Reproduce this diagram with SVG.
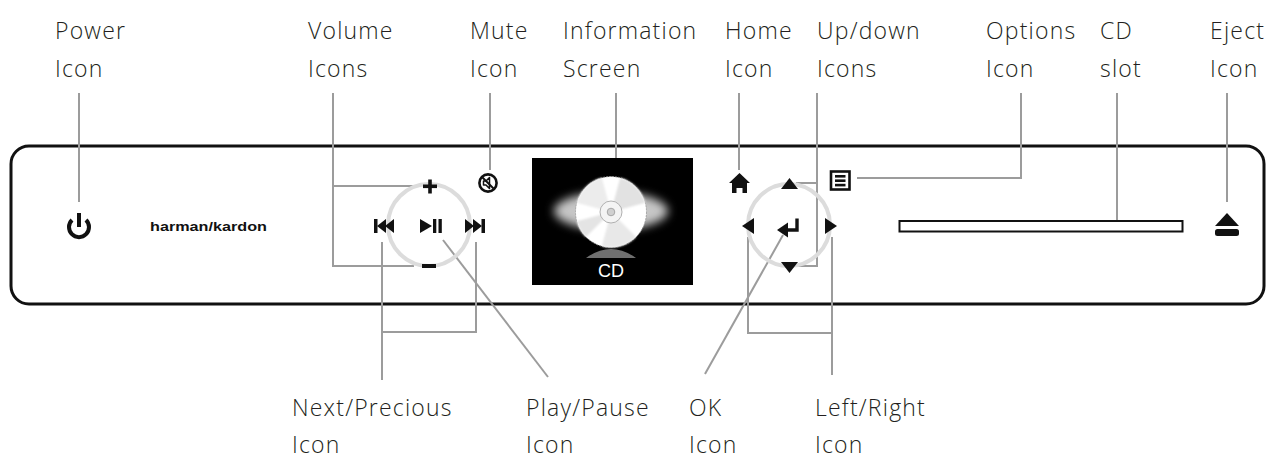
<svg xmlns="http://www.w3.org/2000/svg" width="1268" height="460" viewBox="0 0 1268 460">
  <style>
    .lbl { font-family: "Open Sans", "Liberation Sans", sans-serif; font-weight: 300; font-size: 23px; letter-spacing: 1.2px; fill: #231f20; }
    .lead { fill: none; stroke: #9c9c9c; stroke-width: 2; }
    .ring { fill: none; stroke: #dcdcdc; stroke-width: 4; }
    .ico { fill: #111; }
  </style>
  <defs>
    <filter id="glow" x="-50%" y="-50%" width="200%" height="200%">
      <feGaussianBlur stdDeviation="5"/>
    </filter>
    <filter id="soft" x="-20%" y="-20%" width="140%" height="140%">
      <feGaussianBlur stdDeviation="1.2"/>
    </filter>
    <clipPath id="scr">
      <rect x="532" y="158" width="161" height="127"/>
    </clipPath>
  </defs>

  <!-- front panel -->
  <g id="panel">
    <rect x="11" y="146" width="1253" height="158" rx="18" ry="18" fill="#fff" stroke="#111" stroke-width="3"/>
  </g>

  <!-- leader lines -->
  <g id="connectors" class="lead">
    <path d="M79 93 V202"/>
    <path d="M333 93 V266 H414 M333 186 H416"/>
    <path d="M490 93 V170"/>
    <path d="M616 93 V170"/>
    <path d="M739 93 V170"/>
    <path d="M817 93 V266 H796 M817 183 H796"/>
    <path d="M1021 93 V178 H857"/>
    <path d="M1117 93 V225"/>
    <path d="M1227 93 V202"/>
    <path d="M382 242 V380 M382 332 H476 V242"/>
    <path d="M443 240 L548 377"/>
    <path d="M783 235 L705 374"/>
    <path d="M748 237 V333 H832 M832 237 V375"/>
  </g>

  <!-- power -->
  <g id="power">
    <path d="M72 220 A10 10 0 1 0 86 220" fill="none" stroke="#111" stroke-width="4"/>
    <line x1="79" y1="213" x2="79" y2="227" stroke="#111" stroke-width="4"/>
  </g>

  <!-- brand -->
  <g id="brand">
    <text x="150" y="231" font-family="Liberation Sans, Arial, sans-serif" font-weight="bold" font-size="13.5" fill="#111" textLength="117" lengthAdjust="spacingAndGlyphs">harman/kardon</text>
  </g>

  <!-- volume / transport cluster -->
  <g id="volume">
    <circle class="ring" cx="429" cy="225" r="41"/>
    <rect class="ico" x="423" y="184.5" width="14" height="3.6"/>
    <rect class="ico" x="428.2" y="179.5" width="3.6" height="14"/>
    <rect class="ico" x="422" y="264" width="14" height="4"/>
  </g>
  <g id="previous">
    <rect class="ico" x="374" y="219" width="3.5" height="14"/>
    <polygon class="ico" points="377,226 386,219 386,233"/>
    <polygon class="ico" points="385,226 394,219 394,233"/>
  </g>
  <g id="playpause">
    <polygon class="ico" points="420,219 432,226 420,233"/>
    <rect class="ico" x="433" y="219" width="3.3" height="14"/>
    <rect class="ico" x="438.5" y="219" width="3.3" height="14"/>
  </g>
  <g id="next">
    <polygon class="ico" points="465,219 474,226 465,233"/>
    <polygon class="ico" points="473,219 482,226 473,233"/>
    <rect class="ico" x="481.5" y="219" width="3.5" height="14"/>
  </g>
  <g id="mute">
    <circle cx="488" cy="183" r="8.6" fill="none" stroke="#111" stroke-width="2.6"/>
    <path d="M483.5 181 h2.5 l3.5 -3.5 v11 l-3.5 -3.5 h-2.5 z" fill="none" stroke="#111" stroke-width="1.5" stroke-linejoin="round"/>
    <line x1="482.5" y1="177.5" x2="493.5" y2="188.5" stroke="#111" stroke-width="2"/>
  </g>

  <!-- information screen -->
  <g id="screen">
    <rect x="532" y="158" width="161" height="127" fill="#000"/>
    <g clip-path="url(#scr)">
      <ellipse cx="611" cy="211" rx="57" ry="19" fill="#c6c6c6" filter="url(#glow)"/>
      <path d="M586 258 Q611 240 636 258 Z" fill="#6f6f6f"/>
    </g>
    <circle cx="611" cy="212" r="35.5" fill="#fff" stroke="#9a9a9a" stroke-width="0.8" stroke-dasharray="2 1"/>
    <g filter="url(#soft)">
      <path d="M611 212 L620.2 177.7 A35.5 35.5 0 0 1 645.3 202.8 Z" fill="#e2e2e2"/>
      <path d="M611 212 L576.7 202.8 A35.5 35.5 0 0 1 601.8 177.7 Z" fill="#ececec"/>
      <path d="M611 212 L636.1 237.1 A35.5 35.5 0 0 1 601.8 246.3 Z" fill="#e8e8e8"/>
      <path d="M611 212 L576.7 221.2 A35.5 35.5 0 0 0 585.9 237.1 Z" fill="#e4e4e4"/>
    </g>
    <circle cx="611" cy="212" r="11" fill="#f4f4f4" stroke="#a8a8a8" stroke-width="0.9"/>
    <circle cx="611" cy="212" r="3.8" fill="#d0d0d0" stroke="#999" stroke-width="0.8"/>
    <text x="611" y="277" text-anchor="middle" font-family="Liberation Sans, Arial, sans-serif" font-size="18" fill="#fff">CD</text>
  </g>

  <!-- home -->
  <g id="home">
    <path class="ico" d="M739.5 173 L750 183 H747 V193 H742.5 V188 H736.5 V193 H732 V183 H729 Z"/>
  </g>

  <!-- navigation pad -->
  <g id="navpad">
    <circle class="ring" cx="789" cy="225" r="41"/>
  </g>
  <g id="updown">
    <polygon class="ico" points="789.5,178 798,189 781,189"/>
    <polygon class="ico" points="781,262 798,262 789.5,273"/>
  </g>
  <g id="leftright">
    <polygon class="ico" points="742,226 754,218 754,234"/>
    <polygon class="ico" points="837,226 825,218 825,234"/>
  </g>
  <g id="ok">
    <path d="M797 218.5 V230 H786" fill="none" stroke="#111" stroke-width="3.4"/>
    <polygon class="ico" points="777,230 788,222.5 788,237.5"/>
  </g>

  <!-- options -->
  <g id="options">
    <rect x="831" y="171.5" width="18.5" height="18" fill="#fff" stroke="#111" stroke-width="2.6"/>
    <rect class="ico" x="835" y="175" width="10.5" height="2.6"/>
    <rect class="ico" x="835" y="179.4" width="10.5" height="2.6"/>
    <rect class="ico" x="835" y="183.8" width="10.5" height="2.6"/>
  </g>

  <!-- disc slot -->
  <g id="slot">
    <rect x="899.5" y="221" width="283" height="10.5" fill="#fff" stroke="#111" stroke-width="2"/>
  </g>

  <!-- eject -->
  <g id="eject">
    <polygon class="ico" points="1227,213 1239,226 1215,226"/>
    <rect class="ico" x="1215" y="229" width="24" height="7" rx="2.5"/>
  </g>

  <!-- labels -->
  <g id="labels">
    <text class="lbl" x="55" y="39">Power</text>
    <text class="lbl" x="55" y="77">Icon</text>
    <text class="lbl" x="308" y="39">Volume</text>
    <text class="lbl" x="308" y="77">Icons</text>
    <text class="lbl" x="470" y="39">Mute</text>
    <text class="lbl" x="470" y="77">Icon</text>
    <text class="lbl" x="563" y="39">Information</text>
    <text class="lbl" x="563" y="77">Screen</text>
    <text class="lbl" x="725" y="39">Home</text>
    <text class="lbl" x="725" y="77">Icon</text>
    <text class="lbl" x="817" y="39">Up/down</text>
    <text class="lbl" x="817" y="77">Icons</text>
    <text class="lbl" x="986" y="39">Options</text>
    <text class="lbl" x="986" y="77">Icon</text>
    <text class="lbl" x="1100" y="39">CD</text>
    <text class="lbl" x="1100" y="77">slot</text>
    <text class="lbl" x="1210" y="39">Eject</text>
    <text class="lbl" x="1210" y="77">Icon</text>
    <text class="lbl" x="292" y="416">Next/Precious</text>
    <text class="lbl" x="292" y="453">Icon</text>
    <text class="lbl" x="526" y="416">Play/Pause</text>
    <text class="lbl" x="526" y="453">Icon</text>
    <text class="lbl" x="689" y="416">OK</text>
    <text class="lbl" x="689" y="453">Icon</text>
    <text class="lbl" x="815" y="416">Left/Right</text>
    <text class="lbl" x="815" y="453">Icon</text>
  </g>
</svg>
